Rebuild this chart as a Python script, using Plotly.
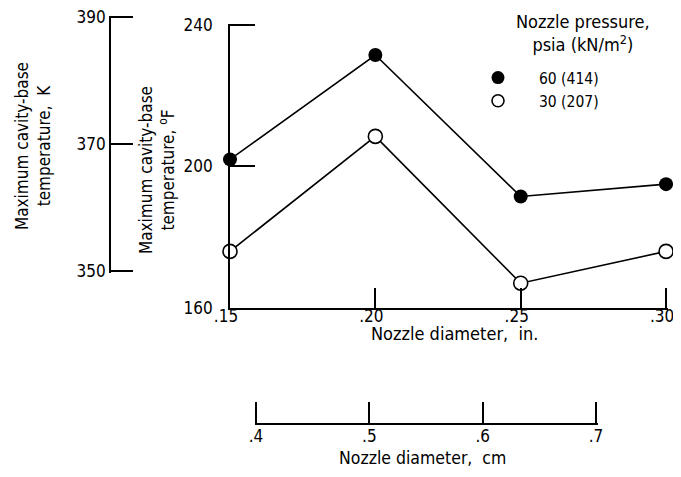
import plotly.graph_objects as go

# nozzle diameter, in.
diameter_in = [0.15, 0.20, 0.25, 0.30]
# max cavity-base temperature, deg F
temp_60psia = [202, 231.5, 191.5, 195]
temp_30psia = [176, 208.5, 167, 176]

series_names = ["60 (414)", "30 (207)"]
in_ticks = [0.15, 0.20, 0.25, 0.30]
in_ticktext = [".15", ".20", ".25", ".30"]
f_ticks = [160, 200, 240]
k_ticks = [350, 370, 390]
cm_ticks = [0.4, 0.5, 0.6, 0.7]
cm_ticktext = [".4", ".5", ".6", ".7"]

FONT = "DejaVu Sans Condensed, Liberation Sans Narrow, sans-serif"
# page body has an 8px margin, so the figure is 16px smaller than the window
PAD = 8
W, H = 681 - 2 * PAD, 477 - 2 * PAD


def px_x(x):
    # window pixel -> paper fraction
    return (x - PAD) / W


def px_y(y):
    return (H - (y - PAD)) / H


fig = go.Figure()

line_style = dict(color="black", width=1.6)
fig.add_trace(go.Scatter(
    x=diameter_in, y=temp_60psia, mode="lines+markers", line=line_style,
    marker=dict(symbol="circle", size=14, color="black"),
    cliponaxis=False, showlegend=False))
fig.add_trace(go.Scatter(
    x=diameter_in, y=temp_30psia, mode="lines+markers", line=line_style,
    marker=dict(symbol="circle", size=14, color="white", line=dict(color="black", width=1.6)),
    cliponaxis=False, showlegend=False))

# legend-only entries (markers only)
fig.add_trace(go.Scatter(
    x=[None], y=[None], mode="markers", name="\u2002\u2002\u2002" + series_names[0],
    marker=dict(symbol="circle", size=13, color="black")))
fig.add_trace(go.Scatter(
    x=[None], y=[None], mode="markers", name="\u2002\u2002\u2002" + series_names[1],
    marker=dict(symbol="circle", size=12, color="white", line=dict(color="black", width=1.6))))

# dummy traces so the secondary scales are drawn
fig.add_trace(go.Scatter(x=[None], y=[None], xaxis="x", yaxis="y2", showlegend=False))
fig.add_trace(go.Scatter(x=[None], y=[None], xaxis="x2", yaxis="y", showlegend=False))

axis_common = dict(showgrid=False, zeroline=False, showline=True, linecolor="black",
                   linewidth=1.6, ticks="inside", tickcolor="black", tickwidth=1.6,
                   automargin=False, ticklabeloverflow="allow",
                   tickfont=dict(size=17, color="black", family=FONT))

# ranges are nudged a hair past the end ticks so plotly keeps the end ticks
fig.update_layout(
    width=W, height=H,
    margin=dict(l=0, r=0, t=0, b=0, autoexpand=False),
    paper_bgcolor="white", plot_bgcolor="rgba(0,0,0,0)",
    font=dict(family=FONT, size=17, color="black"),
    xaxis=dict(domain=[px_x(230), px_x(667.5)], range=[0.15, 0.3005], anchor="y",
               tickvals=in_ticks, ticktext=in_ticktext, ticklen=20,
               ticklabelstandoff=-8, ticklabelshift=-4, **axis_common),
    yaxis=dict(domain=[px_y(308), px_y(23.5)], range=[160, 240.4], anchor="x",
               tickvals=f_ticks, ticklen=25, ticklabelstandoff=12, **axis_common),
    yaxis2=dict(domain=[px_y(272.5), px_y(15.5)], range=[349.83, 390.17], anchor="free",
                position=px_x(110), side="left", tickvals=k_ticks, ticklen=22, **axis_common),
    xaxis2=dict(domain=[px_x(254.5), px_x(597.5)], range=[0.3987, 0.7013], anchor="free",
                position=px_y(424), side="bottom", ticklabelstandoff=-3,
                tickvals=cm_ticks, ticktext=cm_ticktext, ticklen=21, **axis_common),
    showlegend=True,
    legend=dict(x=px_x(478), y=px_y(61), xanchor="left", yanchor="top",
                font=dict(size=15.5, family=FONT), bgcolor="rgba(0,0,0,0)"),
    annotations=[
        dict(text="Maximum cavity-base<br>temperature,  K", x=px_x(33), y=px_y(146),
             textangle=-90),
        dict(text="Maximum cavity-base<br>temperature, <sup>o</sup>F", x=px_x(157), y=px_y(170),
             textangle=-90),
        dict(text="Nozzle diameter,  in.", x=px_x(454), y=px_y(333), font=dict(size=18)),
        dict(text="Nozzle diameter,  cm", x=px_x(422), y=px_y(458), font=dict(size=17.5)),
        dict(text="Nozzle pressure,<br>psia (kN/m<sup>2</sup>)", x=px_x(583), y=px_y(33),
             font=dict(size=18)),
    ],
)
fig.update_annotations(xref="paper", yref="paper", xanchor="center", yanchor="middle",
                       showarrow=False)

fig.write_html("out.html")
